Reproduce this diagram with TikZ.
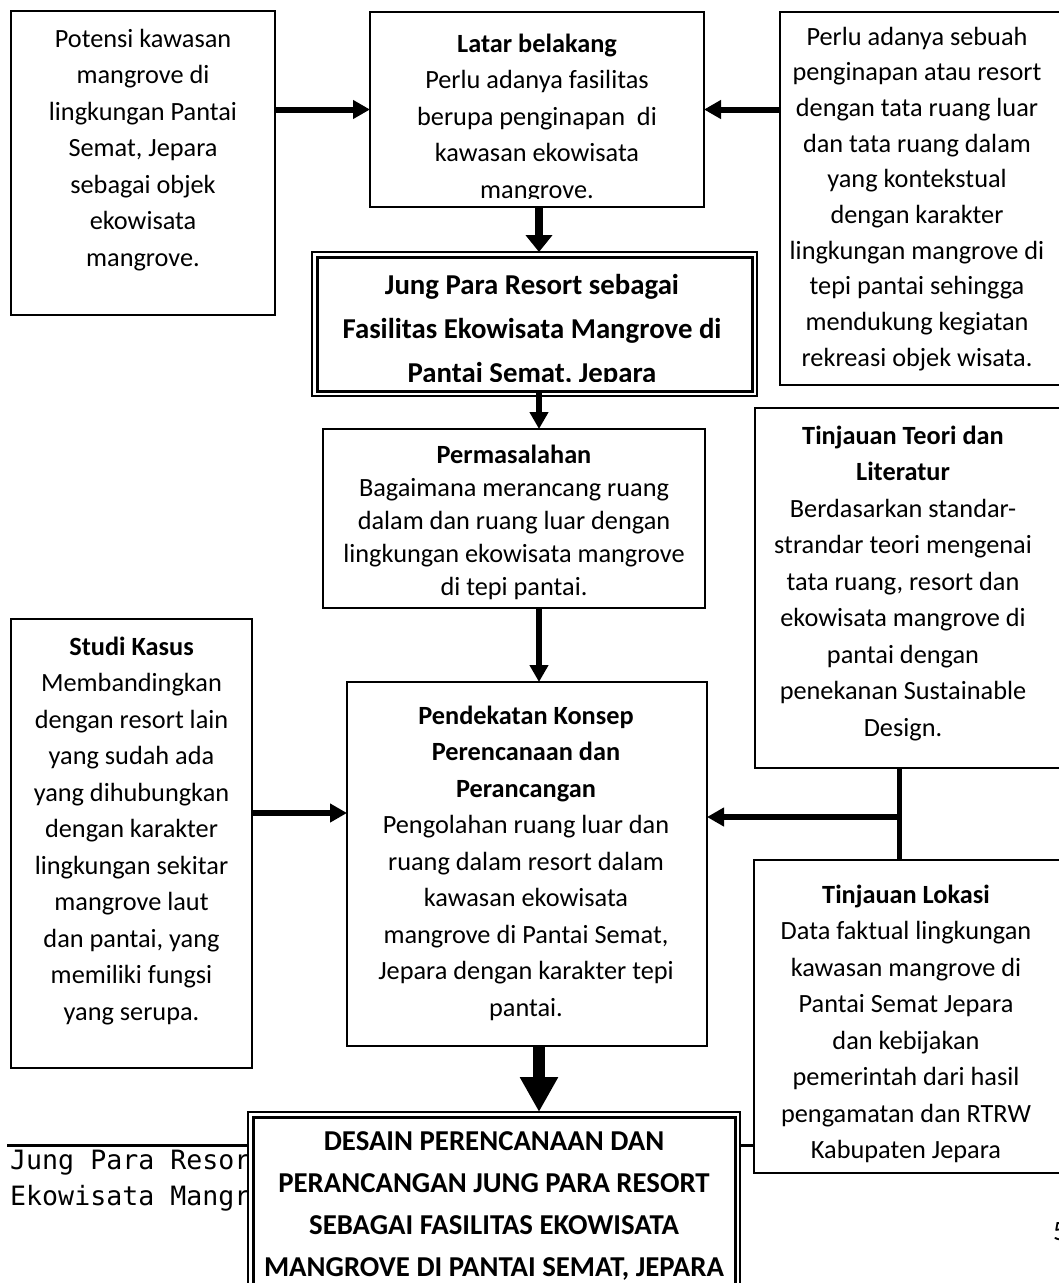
\documentclass[tikz,border=0pt]{standalone}
\usepackage{fontspec}
\setmainfont{Carlito}
\newfontfamily\footmono{DejaVu Sans Mono}
\usetikzlibrary{arrows.meta}
\newcommand\tcol[1]{\begin{tabular}[t]{@{}c@{}}#1\end{tabular}}
\begin{document}
\begin{tikzpicture}[x=1pt,y=-1pt,
  frame/.style={draw=black, line width=1.6pt, inner sep=0pt, outer sep=0pt, anchor=north west, fill=white},
  outerframe/.style={draw=black, line width=1.5pt, inner sep=0pt, outer sep=0pt, anchor=north west, fill=white},
  innerframe/.style={draw=black, line width=3pt, inner sep=0pt, outer sep=0pt, anchor=north west},
  txt/.style={inner sep=0pt, outer sep=0pt, anchor=base, font=\fontsize{26.3}{#1}\selectfont},
  txt/.default=36.5,
  ttl/.style={inner sep=0pt, outer sep=0pt, anchor=base, font=\fontsize{28.8}{#1}\selectfont\bfseries},
  ttl/.default=44,
  conn/.style={line width=6pt, -{Triangle[length=17pt,width=18pt]}},
  heavy/.style={line width=8pt, -{Triangle[length=17pt,width=26pt]}},
  fat/.style={line width=12pt, -{Triangle[length=35pt,width=36pt]}},
  bar/.style={line width=5pt},
  rule/.style={line width=3pt}
]
\useasboundingbox (0,0) rectangle (1059,1283);
\fill[white] (0,0) rectangle (1059,1283);

% ---------- boxes ----------
\node[frame, minimum width=264pt, minimum height=304pt] (pot) at (11,11) {};
\node[frame, minimum width=334pt, minimum height=195pt] (lat) at (370,12) {};
\node[frame, minimum width=290pt, minimum height=373pt] (rt) at (780,12) {};
\node[outerframe, minimum width=445pt, minimum height=144pt] (jung) at (312,252) {};
\node[innerframe, minimum width=435pt, minimum height=134pt] (jungi) at (317,257) {};
\node[frame, minimum width=382pt, minimum height=179pt] (perm) at (323,429) {};
\node[frame, minimum width=310pt, minimum height=360pt] (teori) at (755,408) {};
\node[frame, minimum width=241pt, minimum height=449pt] (studi) at (11,619) {};
\node[frame, minimum width=360pt, minimum height=364pt] (pend) at (347,682) {};
\node[frame, minimum width=310pt, minimum height=313pt] (lok) at (754,860) {};

% ---------- texts ----------
\node[txt] (pott) at (143,47) {\tcol{Potensi kawasan\\mangrove di\\lingkungan Pantai\\Semat, Jepara\\sebagai objek\\ekowisata\\mangrove.}};

\begin{scope}
\clip (lat.north west) rectangle (704,198);
\node[txt] (latt) at (537,52) {\tcol{\textbf{Latar belakang}\\Perlu adanya fasilitas\\berupa penginapan~ di\\kawasan ekowisata\\mangrove.}};
\end{scope}

\node[txt=35.7] (rtt) at (917,45) {\tcol{Perlu adanya sebuah\\penginapan atau resort\\dengan tata ruang luar\\dan tata ruang dalam\\yang kontekstual\\dengan karakter\\lingkungan mangrove di\\tepi pantai sehingga\\mendukung kegiatan\\rekreasi objek wisata.}};

\begin{scope}
\clip (jungi.north west) rectangle (752,381);
\node[ttl] (jungt) at (532,294) {\tcol{Jung Para Resort sebagai\\Fasilitas Ekowisata Mangrove di\\Pantai Semat, Jepara}};
\end{scope}

\node[txt=33] (permt) at (514,463) {\tcol{\textbf{Permasalahan}\\Bagaimana merancang ruang\\dalam dan ruang luar dengan\\lingkungan ekowisata mangrove\\di tepi pantai.}};

\node[txt] (teorit) at (903,444) {\tcol{\textbf{Tinjauan Teori dan}\\\textbf{Literatur}\\Berdasarkan standar-\\strandar teori mengenai\\tata ruang, resort dan\\ekowisata mangrove di\\pantai dengan\\penekanan Sustainable\\Design.}};

\node[txt] (studit) at (131.5,655) {\tcol{\textbf{Studi Kasus}\\Membandingkan\\dengan resort lain\\yang sudah ada\\yang dihubungkan\\dengan karakter\\lingkungan sekitar\\mangrove laut\\dan pantai, yang\\memiliki fungsi\\yang serupa.}};

\node[txt] (pendt) at (526,724) {\tcol{\textbf{Pendekatan Konsep}\\\textbf{Perencanaan dan}\\\textbf{Perancangan}\\Pengolahan ruang luar dan\\ruang dalam resort dalam\\kawasan ekowisata\\mangrove di Pantai Semat,\\Jepara dengan karakter tepi\\pantai.}};

\begin{scope}
\clip (lok.north west) rectangle (1064,1163);
\node[txt] (lokt) at (906,903) {\tcol{\textbf{Tinjauan Lokasi}\\Data faktual lingkungan\\kawasan mangrove di\\Pantai Semat Jepara\\dan kebijakan\\pemerintah dari hasil\\pengamatan dan RTRW\\Kabupaten Jepara}};
\end{scope}

% ---------- footer (partly hidden) ----------
\coordinate (fl) at (7,1145);
\node[anchor=base west, inner sep=0pt, font=\footmono\fontsize{26.6}{36}\selectfont] (ft1) at (10,1169) {Jung Para Resor};
\node[anchor=base west, inner sep=0pt, font=\footmono\fontsize{26.6}{36}\selectfont] (ft2) at (10,1205) {Ekowisata Mangr};
\node[anchor=base west, inner sep=0pt, font=\fontsize{28}{30}\selectfont] (pg) at (1053,1240) {5};

% ---------- final box ----------
\node[outerframe, minimum width=492pt, minimum height=200pt] (des) at (248,1112) {};
\node[innerframe, minimum width=482pt, minimum height=190pt] (desi) at (253,1117) {};
\node[ttl=42.3] (dest) at (494,1150) {\tcol{DESAIN PERENCANAAN DAN\\PERANCANGAN JUNG PARA RESORT\\SEBAGAI FASILITAS EKOWISATA\\MANGROVE DI PANTAI SEMAT, JEPARA}};

% ---------- connectors ----------
\coordinate (axis) at (539,0);
\coordinate (sy) at (0,813);
\coordinate (jn) at (899,817);

\draw[conn] (pot.east |- lat.west) -- (lat.west);
\draw[conn] (rt.west |- lat.east) -- (lat.east);
\draw[heavy] (axis |- lat.south) -- (axis |- jung.north);
\draw[conn] (axis |- jungi.south) -- (axis |- perm.north);
\draw[conn] (axis |- perm.south) -- (axis |- pend.north);
\draw[conn] (studi.east |- sy) -- (pend.west |- sy);
\draw[bar] (jn |- teori.south) -- (jn |- lok.north);
\draw[conn] (jn) -- (pend.east |- jn);
\draw[fat] (axis |- pend.south) -- (axis |- des.north);
\draw[rule] (fl) -- (des.west |- fl);
\draw[rule] (des.east |- fl) -- (lok.west |- fl);
\end{tikzpicture}
\end{document}
